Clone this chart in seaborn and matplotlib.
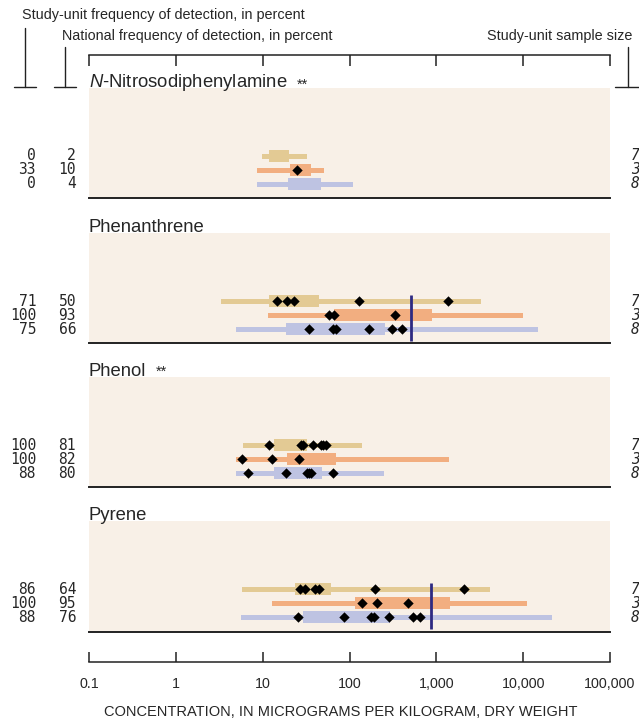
import matplotlib
matplotlib.use("Agg")
import matplotlib.pyplot as plt
import seaborn as sns
import pandas as pd

sns.set_style("white")
plt.rcParams['font.family'] = ['Liberation Sans', 'DejaVu Sans']
plt.rcParams['mathtext.fontset'] = 'custom'
plt.rcParams['mathtext.it'] = 'Liberation Sans:italic'
plt.rcParams['mathtext.rm'] = 'Liberation Sans'

# ---------------- data ----------------
compounds = [r"$\mathit{N}$-Nitrosodiphenylamine", "Phenanthrene", "Phenol", "Pyrene"]
stars = [True, False, True, False]
group_names = ["Study unit A", "Study unit B", "National"]
colors = ["#E3CA94", "#F2AE80", "#BEC3E2"]

study_freq = [[0, 33, 0], [71, 100, 75], [100, 100, 88], [86, 100, 88]]
national_freq = [[2, 10, 4], [50, 93, 66], [81, 82, 80], [64, 95, 76]]
sample_size = [[7, 3, 8], [7, 3, 8], [7, 3, 8], [7, 3, 8]]

whisker_lo = [[9.8, 8.7, 8.7], [3.3, 11.6, 4.9], [6.0, 4.9, 4.9], [5.8, 12.7, 5.7]]
whisker_hi = [[32, 51, 111], [3280, 9900, 15000], [140, 1400, 250], [4170, 11000, 21400]]
box_lo = [[11.9, 20.7, 19.6], [11.9, 67, 18.5], [13.5, 19.3, 13.5], [23.8, 117, 29.4]]
box_hi = [[20, 36, 46.7], [44.6, 887, 257], [32.7, 69, 48], [61, 1442, 294]]

detections = [
    [[], [24.7], []],
    [[14.8, 19.3, 23, 128, 1356], [58.7, 67, 338], [34, 64, 70, 169, 310, 400]],
    [[11.9, 27.5, 29.5, 38, 47, 50, 53], [5.8, 12.9, 26.5], [6.8, 18.6, 32, 34.5, 36.5, 64]],
    [[27, 30.8, 40, 44.6, 199, 2075], [139, 210, 477], [25.8, 86, 176, 194, 288, 545, 650]],
]
guideline = [None, 510, None, 875]

tick_vals = [0.1, 1, 10, 100, 1000, 10000, 100000]
tick_labels = ["0.1", "1", "10", "100", "1,000", "10,000", "100,000"]

# ---------------- layout (pixels) ----------------
W, H = 639, 722
fig = plt.figure(figsize=(W / 100, H / 100), dpi=100)
X0, X1 = 89, 610
tops = [88, 233, 377, 521]
bottoms = [198, 343, 487, 632]
row_off = [68, 82, 96]

beige = "#F8F0E7"
for i in range(4):
    t, b = tops[i], bottoms[i]
    ax = fig.add_axes([X0 / W, 1 - b / H, (X1 - X0) / W, (b - t) / H])
    ax.set_facecolor(beige)
    ax.set_xscale("log")
    ax.set_xlim(0.1, 1e5)
    ax.set_ylim(b - t, 0)
    for s in ["top", "left", "right"]:
        ax.spines[s].set_visible(False)
    ax.spines["bottom"].set_color("#222222")
    ax.spines["bottom"].set_linewidth(1.4)
    ax.set_xticks([])
    ax.set_yticks([])
    ax.minorticks_off()
    for g in range(3):
        y = row_off[g]
        ax.barh(y, whisker_hi[i][g] - whisker_lo[i][g], left=whisker_lo[i][g],
                height=5, color=colors[g], linewidth=0, zorder=2)
        ax.barh(y, box_hi[i][g] - box_lo[i][g], left=box_lo[i][g],
                height=12, color=colors[g], linewidth=0, zorder=3)
    pts = pd.DataFrame([(v, row_off[g]) for g in range(3) for v in detections[i][g]],
                       columns=["conc", "row"])
    if len(pts):
        sns.scatterplot(data=pts, x="conc", y="row", marker="D", color="black",
                        s=28, linewidth=0, ax=ax, legend=False, zorder=5)
    if guideline[i] is not None:
        ax.vlines(guideline[i], row_off[0] - 6, row_off[2] + 12, color="#2E2A82",
                  linewidth=2, zorder=6)
    ax.set_xlabel("")
    ax.set_ylabel("")
    ax.set_xlim(0.1, 1e5)
    ax.set_ylim(b - t, 0)

# top axis (ticks only)
axt = fig.add_axes([X0 / W, 1 - 66 / H, (X1 - X0) / W, 11 / H])
axt.patch.set_visible(False)
axt.set_xscale("log")
axt.set_xlim(0.1, 1e5)
for s in ["bottom", "left", "right"]:
    axt.spines[s].set_visible(False)
axt.spines["top"].set_linewidth(1.1)
axt.spines["top"].set_color("#222222")
axt.set_yticks([])
axt.set_xticks(tick_vals)
axt.minorticks_off()
axt.tick_params(axis="x", which="major", top=True, bottom=False, labeltop=False,
                labelbottom=False, direction="in", length=8, width=1.1, color="#222222")

# bottom axis
axb = fig.add_axes([X0 / W, 1 - 662 / H, (X1 - X0) / W, 11 / H])
axb.patch.set_visible(False)
axb.set_xscale("log")
axb.set_xlim(0.1, 1e5)
for s in ["top", "left", "right"]:
    axb.spines[s].set_visible(False)
axb.spines["bottom"].set_linewidth(1.1)
axb.spines["bottom"].set_color("#222222")
axb.set_yticks([])
axb.set_xticks(tick_vals)
axb.set_xticklabels(tick_labels)
axb.minorticks_off()
axb.tick_params(axis="x", which="major", bottom=True, top=False, direction="in",
                length=7.5, width=1.1, color="#222222", labelsize=10.3, pad=11)

# overlay in pixel coords
ov = fig.add_axes([0, 0, 1, 1])
ov.set_xlim(0, W)
ov.set_ylim(H, 0)
ov.axis("off")

ov.text(341, 712, "CONCENTRATION, IN MICROGRAMS PER KILOGRAM, DRY WEIGHT",
        ha="center", va="center", fontsize=10.5)
ov.text(22, 15, "Study-unit frequency of detection, in percent", ha="left",
        va="center", fontsize=10.4)
ov.text(62, 36, "National frequency of detection, in percent", ha="left",
        va="center", fontsize=10.4)
ov.text(632, 36, "Study-unit sample size", ha="right", va="center", fontsize=10.4)

lc = "#222222"
ov.plot([25, 25], [28, 87], color=lc, lw=1)
ov.plot([14, 36], [87, 87], color=lc, lw=1)
ov.plot([65, 65], [47, 87], color=lc, lw=1)
ov.plot([54, 76], [87, 87], color=lc, lw=1)
ov.plot([628, 628], [47, 87], color=lc, lw=1)
ov.plot([615, 639], [87, 87], color=lc, lw=1)

for i in range(4):
    t = ov.text(X0, tops[i] - 1, compounds[i], ha="left", va="baseline", fontsize=13.3)
    if stars[i]:
        ov.annotate("**", xy=(1, 0), xycoords=t, xytext=(7, 3),
                    textcoords="offset points", ha="left", va="baseline", fontsize=10.5)
    for g in range(3):
        y = tops[i] + row_off[g]
        ov.text(36, y, str(study_freq[i][g]), ha="right", va="center",
                family="DejaVu Sans Mono", fontsize=10.5)
        ov.text(76, y, str(national_freq[i][g]), ha="right", va="center",
                family="DejaVu Sans Mono", fontsize=10.5)
        ov.text(631, y, str(sample_size[i][g]), ha="left", va="center",
                family="DejaVu Sans Mono", style="oblique", fontsize=10.5)

fig.savefig("out.png", dpi=100)
